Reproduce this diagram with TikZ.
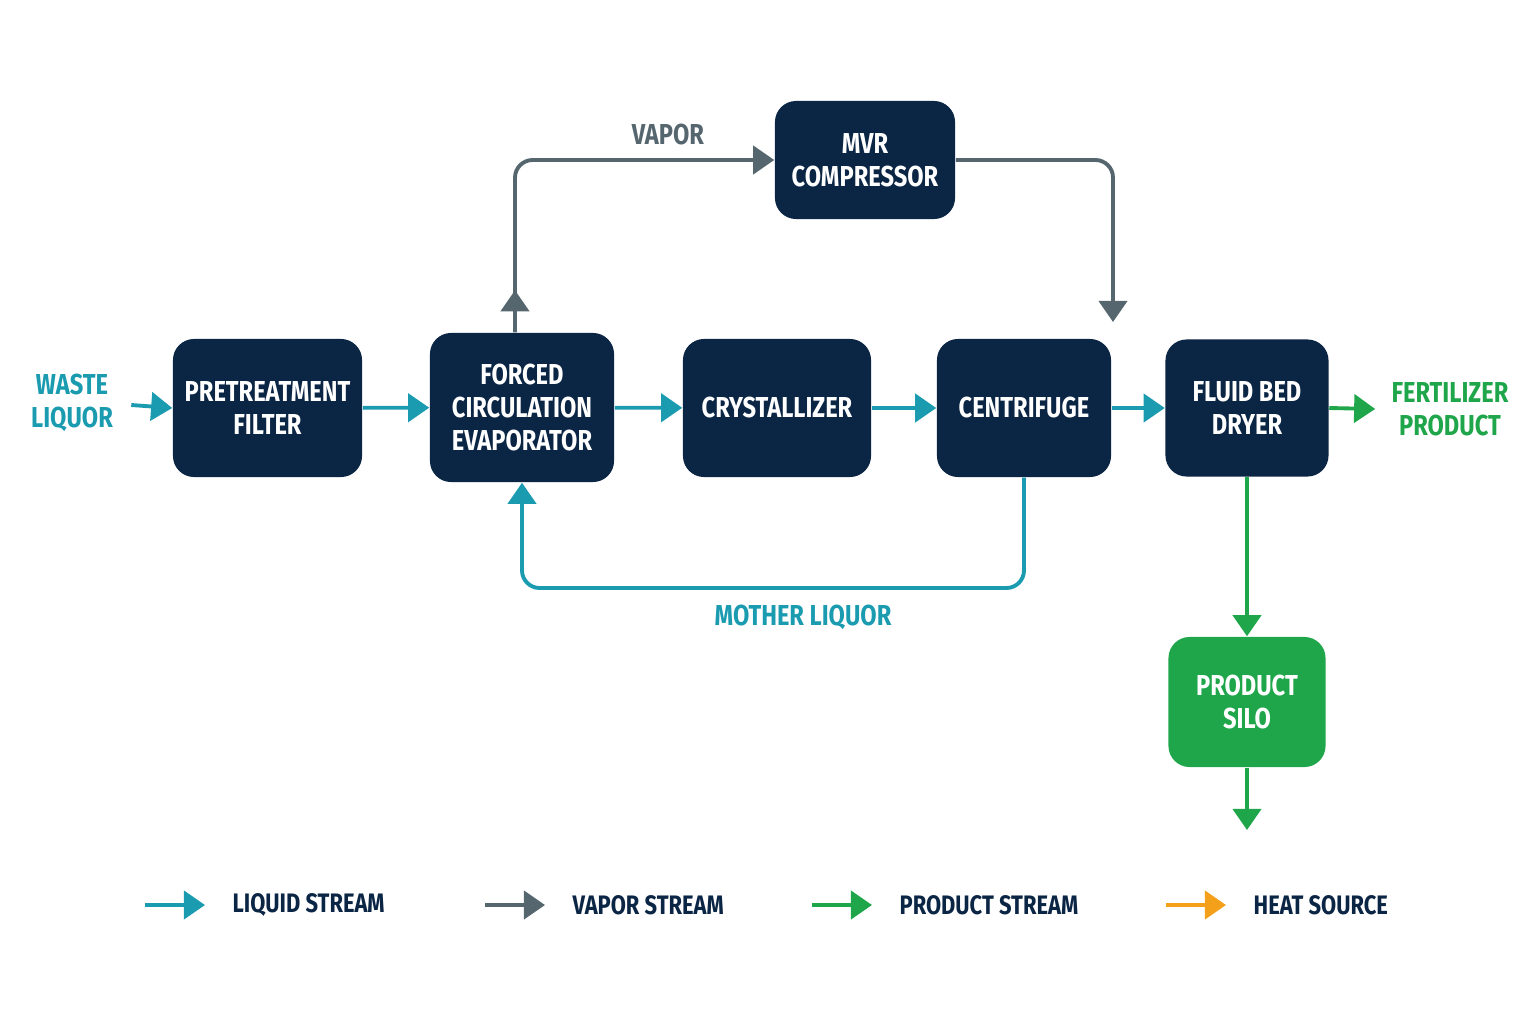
\documentclass[tikz,border=0pt]{standalone}
\usepackage{fontspec}
\setmainfont{Fira Sans}[FakeStretch=0.82]
\usetikzlibrary{arrows.meta,positioning,calc}
\definecolor{navy}{HTML}{0B2545}
\definecolor{liqcolor}{HTML}{1A9BB0}
\definecolor{vapcolor}{HTML}{56666F}
\definecolor{prodcolor}{HTML}{1FA64A}
\definecolor{heatcolor}{HTML}{F5A01A}
\tikzset{
  unit/.style={fill=navy,rounded corners=6pt,text=white,align=center,
    font=\bfseries\fontsize{8.2}{9.5}\selectfont,inner sep=0pt},
  liq/.style={liqcolor,line width=1.1pt,-{Triangle[length=6pt,width=8pt]}},
  vap/.style={vapcolor,line width=1.1pt,-{Triangle[length=6pt,width=8pt]}},
  prod/.style={prodcolor,line width=1.1pt,-{Triangle[length=6pt,width=8pt]}},
  heat/.style={heatcolor,line width=1.1pt,-{Triangle[length=6pt,width=8pt]}},
  lbl/.style={font=\bfseries\fontsize{8.2}{9.5}\selectfont,align=center},
  key/.style={font=\fontsize{7.6}{9}\selectfont\bfseries,anchor=west,text=navy},
}
\begin{document}
\begin{tikzpicture}[x=0.01cm,y=-0.01cm]
\useasboundingbox (0,0) rectangle (1536,1024);
% process units
\node[unit,minimum width=1.89cm,minimum height=1.38cm] (filt) at (267.5,408) {PRETREATMENT\\FILTER};
\node[unit,minimum width=1.84cm,minimum height=1.49cm] (evap) at (522,407.5) {FORCED\\CIRCULATION\\EVAPORATOR};
\node[unit,minimum width=1.88cm,minimum height=1.38cm] (cryst) at (777,408) {CRYSTALLIZER};
\node[unit,minimum width=1.74cm,minimum height=1.38cm] (cent) at (1024,408) {CENTRIFUGE};
\node[unit,minimum width=1.63cm,minimum height=1.37cm] (dryer) at (1247,408) {FLUID BED\\DRYER};
\node[unit,minimum width=1.80cm,minimum height=1.18cm] (mvr) at (865,160) {MVR\\COMPRESSOR};
\node[unit,fill=prodcolor,minimum width=1.57cm,minimum height=1.30cm] (silo) at (1247,702) {PRODUCT\\SILO};
% stream labels
\node[lbl,text=liqcolor] (waste) at (72,403) {WASTE\\LIQUOR};
\node[lbl,text=prodcolor] (fert) at (1450,409) {FERTILIZER\\PRODUCT};
\node[lbl,text=vapcolor] (vaplbl) at (668,135) {VAPOR};
\node[lbl,text=liqcolor] (mlbl) at (803,617) {MOTHER LIQUOR};
\coordinate (vapin) at (1113,322);
\coordinate (siloout) at (1247,830);
% liquid line
\draw[liq] (waste.east) ++(6,2) -- (filt.west);
\draw[liq] (filt) -- (evap);
\draw[liq] (evap) -- (cryst);
\draw[liq] (cryst) -- (cent);
\draw[liq] (cent) -- (dryer);
\draw[liq,rounded corners=5pt] (cent.south) |- (522,588) -- (evap.south);
% vapor loop
\draw[vap,rounded corners=5pt] ([xshift=-0.07cm]evap.north) |- (mvr.west);
\draw[vap] ([xshift=-0.07cm]evap.north) -- ++(0,-42);
\draw[vap,rounded corners=5pt] (mvr.east) -| (vapin);
% product line
\draw[prod] (dryer.east) -- ([xshift=-0.04cm]fert.west);
\draw[prod] (dryer.south) -- (silo.north);
\draw[prod] (silo.south) -- (siloout);
% legend
\foreach \x/\sty/\txt in {145/liq/LIQUID STREAM, 485/vap/VAPOR STREAM, 812/prod/PRODUCT STREAM, 1166/heat/HEAT SOURCE}
  \draw[\sty] (\x,905) -- ++(60,0) node[key,xshift=0.14cm] {\txt};
\end{tikzpicture}
\end{document}
